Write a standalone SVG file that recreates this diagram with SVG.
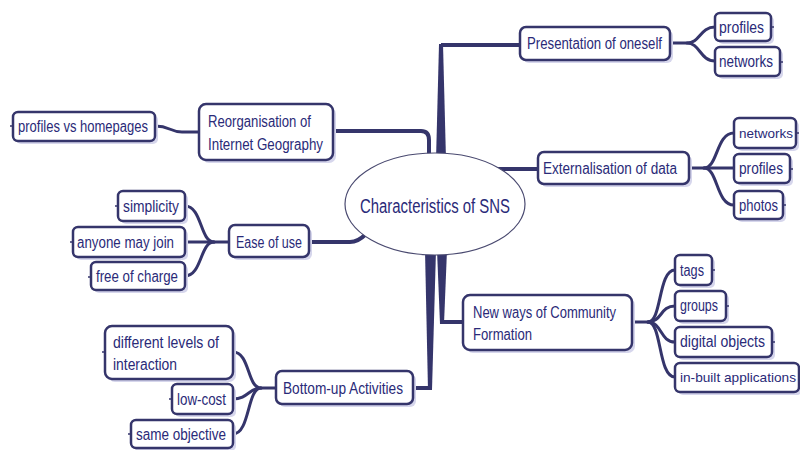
<svg xmlns="http://www.w3.org/2000/svg" width="800" height="450" viewBox="0 0 800 450">
<style>
.bx{fill:#fff;stroke:#35356b;stroke-width:2.5}
.sh{fill:#d6d6ec}
.t{font-family:"Liberation Sans",Arial,sans-serif;font-size:16px;fill:#2a2a78}
.s{font-size:13.5px}
.mt{font-family:"Liberation Sans",Arial,sans-serif;font-size:20px;fill:#2a2a78}
.c{fill:none;stroke:#35356b;stroke-width:3;stroke-linecap:round}
.tr{fill:none;stroke:#35356b;stroke-width:4}
.tp{fill:#35356b}
.tk{stroke:#35356b;stroke-width:1.5}
</style>
<rect width="800" height="450" fill="#fff"/>
<g id="connectors">
<path class="tp" d="M436,160 L446,160 L443,44 L439,44 Z"/>
<path class="tr" d="M441,45 H520"/>
<path class="tr" d="M333,131 H421 Q429,131 429,140 V162"/>
<path class="tr" d="M495,169 H538"/>
<path class="tr" d="M309,242 H350 Q358,242 366,234"/>
<path class="tp" d="M425,250 L436,250 L432,390 L428,390 Z"/>
<path class="tr" d="M430,388 H413"/>
<path class="tp" d="M437,250 L447,250 L444,324 L440,324 Z"/>
<path class="tr" d="M442,322 H463"/>
<path class="c" d="M670,43 H687 C700,43 700,27 715,27"/>
<path class="c" d="M687,43 C700,43 700,61 715,61"/>
<path class="c" d="M689,168 H704 C718,168 716,133 734,133"/>
<path class="c" d="M704,168 H734"/>
<path class="c" d="M704,168 C718,168 716,205 734,205"/>
<path class="c" d="M632,322 H648 C662,322 658,270 675,270"/>
<path class="c" d="M648,322 C662,322 660,306 675,306"/>
<path class="c" d="M648,322 C662,322 660,342 675,342"/>
<path class="c" d="M648,322 C662,322 658,377 675,377"/>
<path class="c" d="M199,132 H182 C170,132 170,126 155,126"/>
<path class="c" d="M229,242 H214 C200,242 202,206 185,206"/>
<path class="c" d="M214,242 H185"/>
<path class="c" d="M214,242 C200,242 202,276 185,276"/>
<path class="c" d="M276,388 H261 C247,388 250,352 233,352"/>
<path class="c" d="M261,388 C249,388 248,399 233,399"/>
<path class="c" d="M261,388 C247,388 250,434 233,434"/>
</g>
<g id="center">
<ellipse cx="435" cy="204" rx="90" ry="51" fill="#fff" stroke="#4a4a70" stroke-width="1.2"/>
<text class="mt" x="360" y="213" textLength="150" lengthAdjust="spacingAndGlyphs">Characteristics of SNS</text>
</g>
<g id="presentation">
<rect class="sh" x="523" y="30" width="150" height="33" rx="6"/>
<rect class="bx" x="520" y="27" width="150" height="33" rx="6"/>
<text class="t" x="527" y="49" textLength="135" lengthAdjust="spacingAndGlyphs">Presentation of oneself</text>
</g>
<g id="p-profiles">
<rect class="sh" x="718" y="16" width="56" height="28" rx="5"/>
<rect class="bx" x="715" y="13" width="56" height="28" rx="5"/>
<path class="tk" d="M771,27 h3"/>
<text class="t" x="719" y="33" textLength="45" lengthAdjust="spacingAndGlyphs">profiles</text>
</g>
<g id="p-networks">
<rect class="sh" x="718" y="50" width="65" height="29" rx="5"/>
<rect class="bx" x="715" y="47" width="65" height="29" rx="5"/>
<path class="tk" d="M780,62 h3"/>
<text class="t" x="719" y="67" textLength="54" lengthAdjust="spacingAndGlyphs">networks</text>
</g>
<g id="externalisation">
<rect class="sh" x="541" y="155" width="151" height="32" rx="6"/>
<rect class="bx" x="538" y="152" width="151" height="32" rx="6"/>
<text class="t" x="543" y="174" textLength="134" lengthAdjust="spacingAndGlyphs">Externalisation of data</text>
</g>
<g id="e-networks">
<rect class="sh" x="737" y="121" width="62" height="30" rx="5"/>
<rect class="bx" x="734" y="118" width="62" height="30" rx="5"/>
<path class="tk" d="M796,133 h3"/>
<text class="t s" x="739" y="138" textLength="54" lengthAdjust="spacingAndGlyphs">networks</text>
</g>
<g id="e-profiles">
<rect class="sh" x="737" y="157" width="56" height="29" rx="5"/>
<rect class="bx" x="734" y="154" width="56" height="29" rx="5"/>
<path class="tk" d="M790,169 h3"/>
<text class="t" x="739" y="174" textLength="44" lengthAdjust="spacingAndGlyphs">profiles</text>
</g>
<g id="e-photos">
<rect class="sh" x="737" y="194" width="49" height="28" rx="5"/>
<rect class="bx" x="734" y="191" width="49" height="28" rx="5"/>
<path class="tk" d="M783,205 h3"/>
<text class="t" x="739" y="211" textLength="39" lengthAdjust="spacingAndGlyphs">photos</text>
</g>
<g id="community">
<rect class="sh" x="466" y="298" width="169" height="55" rx="7"/>
<rect class="bx" x="463" y="295" width="169" height="55" rx="7"/>
<text class="t" x="473" y="318" textLength="143" lengthAdjust="spacingAndGlyphs">New ways of Community</text>
<text class="t" x="473" y="340" textLength="59" lengthAdjust="spacingAndGlyphs">Formation</text>
</g>
<g id="c-tags">
<rect class="sh" x="678" y="258" width="37" height="30" rx="5"/>
<rect class="bx" x="675" y="255" width="37" height="30" rx="5"/>
<path class="tk" d="M712,270 h3"/>
<text class="t" x="680" y="276" textLength="24" lengthAdjust="spacingAndGlyphs">tags</text>
</g>
<g id="c-groups">
<rect class="sh" x="678" y="294" width="51" height="30" rx="5"/>
<rect class="bx" x="675" y="291" width="51" height="30" rx="5"/>
<path class="tk" d="M726,306 h3"/>
<text class="t" x="680" y="311" textLength="38" lengthAdjust="spacingAndGlyphs">groups</text>
</g>
<g id="c-digital">
<rect class="sh" x="678" y="330" width="97" height="30" rx="5"/>
<rect class="bx" x="675" y="327" width="97" height="30" rx="5"/>
<path class="tk" d="M772,342 h3"/>
<text class="t" x="680" y="347" textLength="85" lengthAdjust="spacingAndGlyphs">digital objects</text>
</g>
<g id="c-inbuilt">
<rect class="sh" x="678" y="366" width="124" height="29" rx="5"/>
<rect class="bx" x="675" y="363" width="124" height="29" rx="5"/>
<text class="t s" x="680" y="382" textLength="116" lengthAdjust="spacingAndGlyphs">in-built applications</text>
</g>
<g id="reorganisation">
<rect class="sh" x="202" y="107" width="134" height="56" rx="7"/>
<rect class="bx" x="199" y="104" width="134" height="56" rx="7"/>
<text class="t" x="208" y="127" textLength="103" lengthAdjust="spacingAndGlyphs">Reorganisation of</text>
<text class="t" x="208" y="150" textLength="115" lengthAdjust="spacingAndGlyphs">Internet Geography</text>
</g>
<g id="r-homepages">
<rect class="sh" x="16" y="115" width="142" height="29" rx="5"/>
<rect class="bx" x="13" y="112" width="142" height="29" rx="5"/>
<path class="tk" d="M10,126 h3"/>
<text class="t" x="18" y="132" textLength="130" lengthAdjust="spacingAndGlyphs">profiles vs homepages</text>
</g>
<g id="ease">
<rect class="sh" x="232" y="228" width="80" height="32" rx="6"/>
<rect class="bx" x="229" y="225" width="80" height="32" rx="6"/>
<text class="t" x="236" y="248" textLength="66" lengthAdjust="spacingAndGlyphs">Ease of use</text>
</g>
<g id="u-simplicity">
<rect class="sh" x="121" y="194" width="67" height="30" rx="5"/>
<rect class="bx" x="118" y="191" width="67" height="30" rx="5"/>
<path class="tk" d="M115,206 h3"/>
<text class="t" x="123" y="212" textLength="56" lengthAdjust="spacingAndGlyphs">simplicity</text>
</g>
<g id="u-anyone">
<rect class="sh" x="76" y="230" width="112" height="30" rx="5"/>
<rect class="bx" x="73" y="227" width="112" height="30" rx="5"/>
<path class="tk" d="M70,242 h3"/>
<text class="t" x="77" y="248" textLength="97" lengthAdjust="spacingAndGlyphs">anyone may join</text>
</g>
<g id="u-free">
<rect class="sh" x="94" y="265" width="94" height="28" rx="5"/>
<rect class="bx" x="91" y="262" width="94" height="28" rx="5"/>
<path class="tk" d="M88,277 h3"/>
<text class="t" x="96" y="282" textLength="82" lengthAdjust="spacingAndGlyphs">free of charge</text>
</g>
<g id="bottomup">
<rect class="sh" x="279" y="374" width="137" height="33" rx="6"/>
<rect class="bx" x="276" y="371" width="137" height="33" rx="6"/>
<text class="t" x="283" y="394" textLength="120" lengthAdjust="spacingAndGlyphs">Bottom-up Activities</text>
</g>
<g id="b-levels">
<rect class="sh" x="108" y="329" width="128" height="53" rx="7"/>
<rect class="bx" x="105" y="326" width="128" height="53" rx="7"/>
<path class="tk" d="M102,352 h3"/>
<text class="t" x="113" y="348" textLength="106" lengthAdjust="spacingAndGlyphs">different levels of</text>
<text class="t" x="113" y="370" textLength="64" lengthAdjust="spacingAndGlyphs">interaction</text>
</g>
<g id="b-lowcost">
<rect class="sh" x="175" y="387" width="61" height="30" rx="5"/>
<rect class="bx" x="172" y="384" width="61" height="30" rx="5"/>
<path class="tk" d="M169,399 h3"/>
<text class="t" x="177" y="405" textLength="49" lengthAdjust="spacingAndGlyphs">low-cost</text>
</g>
<g id="b-same">
<rect class="sh" x="134" y="423" width="102" height="28" rx="5"/>
<rect class="bx" x="131" y="420" width="102" height="28" rx="5"/>
<path class="tk" d="M128,434 h3"/>
<text class="t" x="136" y="440" textLength="90" lengthAdjust="spacingAndGlyphs">same objective</text>
</g>
</svg>
